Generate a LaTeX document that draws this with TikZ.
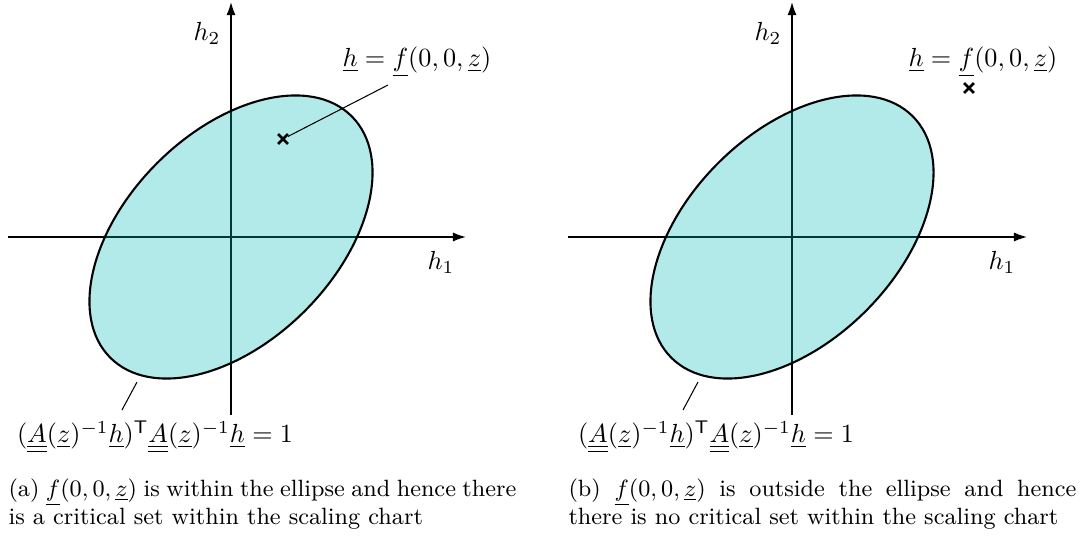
\documentclass[tikz,border=0pt]{standalone}
\usepackage{amsmath}
\usetikzlibrary{arrows.meta,shapes.misc}
\definecolor{ellfill}{RGB}{0,184,184}
\newcommand{\uu}[1]{\underline{\underline{#1}}}
\newcommand{\ul}[1]{\underline{#1}}
\newcommand{\ellipselabel}{$(\uu{A}(\ul{z})^{-1}\ul{h})^{\mathsf{T}}\uu{A}(\ul{z})^{-1}\ul{h}=1$}

\begin{document}
\begin{tikzpicture}[x=0.382pt,y=0.382pt,
    axis/.style={semithick,-{Latex[length=5pt,width=3.5pt]}},
    ell/.style={thick,fill=ellfill,fill opacity=0.3},  % axes show through the fill
    crossmark/.style={cross out,draw,line width=1pt,minimum size=2.8pt,inner sep=0pt},
    caption/.style={text width=194pt,align=justify,anchor=north west,inner sep=0pt,font=\small}
]
\useasboundingbox (0,0) rectangle (1081,535);

% (a) point inside the ellipse
\coordinate (o1) at (231,298);
\draw[axis] (231,120) -- (231,533);
\draw[axis] (8,298) -- (466,298);
\node (h2a) at (207,502) {$h_2$};
\node (h1a) at (441,273) {$h_1$};
\draw[ell,rotate around={45:(o1)}] (o1) ellipse [x radius=170.7, y radius=104.5];
\node[crossmark] (cross1) at (283,396) {};
\coordinate (tip1) at (388,450);
\node (fa) at (417,473) {$\ul{h}=\ul{f}(0,0,\ul{z})$};
\draw (cross1) -- (tip1);
\coordinate (rim1) at (137,153);
\coordinate (foot1) at (122,125);
\draw (rim1) -- (foot1);
\node (eqa) at (155,98) {\ellipselabel};
\node[caption] (capa) at (8,57) {(a) $\ul{f}(0,0,\ul{z})$ is within the ellipse and hence there is a critical set within the scaling chart};

% (b) point outside the ellipse
\coordinate (o2) at (792,298);
\draw[axis] (792,120) -- (792,533);
\draw[axis] (568,298) -- (1027,298);
\node (h2b) at (768,502) {$h_2$};
\node (h1b) at (1002,273) {$h_1$};
\draw[ell,rotate around={45:(o2)}] (o2) ellipse [x radius=170.7, y radius=104.5];
\node[crossmark] (cross2) at (969,447) {};
\node (fb) at (983,473) {$\ul{h}=\ul{f}(0,0,\ul{z})$};
\coordinate (rim2) at (698,153);
\coordinate (foot2) at (683,125);
\draw (rim2) -- (foot2);
\node (eqb) at (716,98) {\ellipselabel};
\node[caption] (capb) at (568,57) {(b) $\ul{f}(0,0,\ul{z})$ is outside the ellipse and hence there is no critical set within the scaling chart};
\end{tikzpicture}
\end{document}
